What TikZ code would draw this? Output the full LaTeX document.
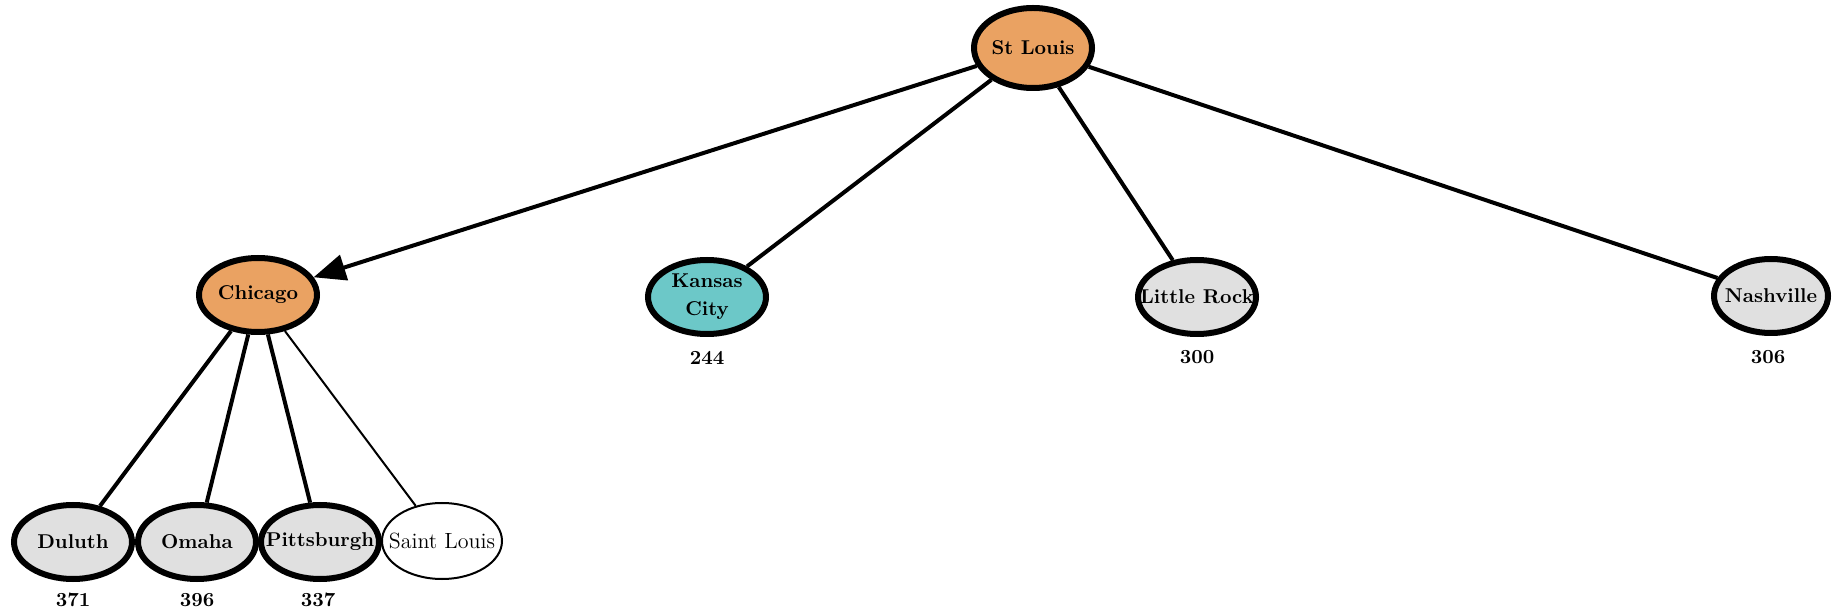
\documentclass[tikz,border=0pt]{standalone}
\usetikzlibrary{shapes.geometric,arrows.meta}

\definecolor{visited}{RGB}{234,162,98}
\definecolor{current}{RGB}{108,200,200}
\definecolor{frontier}{RGB}{224,224,224}

% keep the label from widening the ellipse
\newcommand{\cityname}[1]{\makebox[0pt]{#1}}

\tikzset{
  city/.style={ellipse, draw, line width=3pt, fill=frontier, font=\bfseries,
    minimum width=59pt, minimum height=37pt, inner sep=0pt},
  seen/.style={city, fill=visited},
  open/.style={city, fill=current},
  plain/.style={ellipse, draw, line width=1pt, fill=white,
    font=\fontsize{11}{13}\selectfont, minimum width=60pt, minimum height=38pt, inner sep=0pt},
  cost/.style={font=\bfseries, inner sep=0pt},
  link/.style={line width=2pt},
  thinlink/.style={line width=1pt},
}

\begin{document}
\begin{tikzpicture}[x=0.5pt, y=-0.5pt]
  \useasboundingbox (0,0) rectangle (1832,614);

  % tree nodes
  \node[seen, minimum height=40pt] (stl) at (1033,48) {\cityname{St Louis}};
  \node[seen] (chi) at (258,295) {\cityname{Chicago}};
  \node[open] (kc) at (707,297)
    {\cityname{\begin{tabular}{@{}c@{}}Kansas\\[2pt]City\end{tabular}}};
  \node[city] (lr) at (1197,297) {\cityname{Little Rock}};
  \node[city, minimum width=57pt] (nash) at (1771,296) {\cityname{Nashville}};

  \node[city] (dul) at (73,542) {\cityname{Duluth}};
  \node[city] (oma) at (197,542) {\cityname{Omaha}};
  \node[city] (pit) at (320,542) {\cityname{Pittsburgh}};
  \node[plain] (sl) at (442,541) {\cityname{Saint Louis}};

  % path costs
  \node[cost] (ckc) at (707,358) {244};
  \node[cost] (clr) at (1197,357) {300};
  \node[cost] (cnash) at (1768,357) {306};
  \node[cost] (cdul) at (73,600) {371};
  \node[cost] (coma) at (197,600) {396};
  \node[cost] (cpit) at (318,600) {337};

  % edges
  \draw[link, -{Triangle[length=16pt,width=13pt]}] (stl) -- (chi);
  \draw[link] (stl) -- (kc);
  \draw[link] (stl) -- (lr);
  \draw[link] (stl) -- (nash);
  \draw[link] (chi) -- (dul);
  \draw[link] (chi) -- (oma);
  \draw[link] (chi) -- (pit);
  \draw[thinlink] (chi) -- (sl);
\end{tikzpicture}
\end{document}
